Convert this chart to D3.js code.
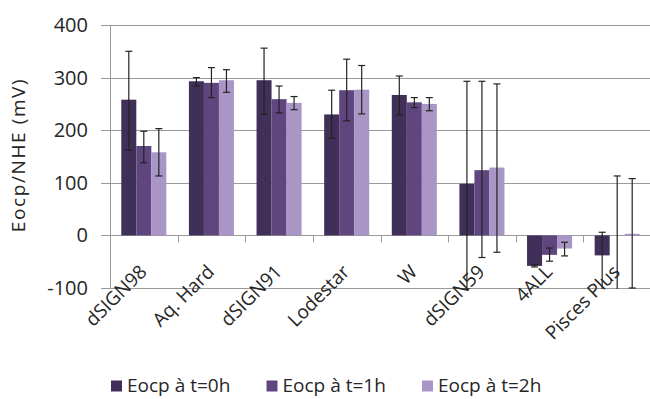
<!DOCTYPE html>
<html><head><meta charset="utf-8">
<script src="https://cdn.jsdelivr.net/npm/d3@7"></script>
<style>body{margin:0;background:#fff}svg{display:block}text{font-family:"Open Sans",sans-serif;fill:#262626}</style>
</head><body><svg id="c" width="650" height="399"></svg>
<script>
const categories = ["dSIGN98","Aq. Hard","dSIGN91","Lodestar","W","dSIGN59","4ALL","Pisces Plus"];
const seriesNames = ["Eocp à t=0h","Eocp à t=1h","Eocp à t=2h"];
const t0 = [258, 293, 295, 230, 267, 98, -58, -38];
const t1 = [170, 290, 259, 276, 253, 124, -37, 0];
const t2 = [158, 295, 252, 277, 250, 129, -25, 3];
const t0Up = [92, 7, 61, 46, 36, 195, 2, 44];
const t0Down = [96, 9, 65, 45, 38, 200, 2, 70];
const t1Up = [28, 29, 25, 59, 9, 169, 13, 113];
const t1Down = [32, 28, 26, 58, 10, 166, 12, 110];
const t2Up = [45, 20, 12, 46, 12, 159, 12, 105];
const t2Down = [45, 23, 13, 46, 13, 161, 14, 103];
const yTicks = [-100, 0, 100, 200, 300, 400];
const colors = ["#402f58", "#60467f", "#a996c6"];

const series = [
  {name: seriesNames[0], vals: t0, up: t0Up, down: t0Down},
  {name: seriesNames[1], vals: t1, up: t1Up, down: t1Down},
  {name: seriesNames[2], vals: t2, up: t2Up, down: t2Down}
];

const svg = d3.select("#c");
const pL = 110, pR = 651, pT = 25, pB = 288;
const y = d3.scaleLinear().domain([-100, 400]).range([pB, pT]);
const x = d3.scaleBand().domain(categories).range([pL, pR]).padding(0);
const xs = d3.scaleBand().domain([0,1,2]).range([x.bandwidth()*0.167, x.bandwidth()*0.833]).padding(0);

// gridlines
svg.append("g").selectAll("line").data(yTicks).join("line")
  .attr("x1", pL - 9).attr("x2", pR)
  .attr("y1", d => Math.round(y(d)) + 0.5).attr("y2", d => Math.round(y(d)) + 0.5)
  .attr("stroke", "#9a9a9a").attr("stroke-width", 1);

// y tick labels
svg.append("g").selectAll("text").data(yTicks).join("text")
  .attr("x", 88).attr("y", d => y(d)).attr("dy", "0.35em")
  .attr("text-anchor", "end").style("font-size", "20px").text(d => d);

// y axis line
svg.append("line").attr("x1", pL + 0.5).attr("x2", pL + 0.5)
  .attr("y1", pT).attr("y2", pB + 1).attr("stroke", "#9a9a9a");

// category ticks at zero
svg.append("g").selectAll("line").data(categories.slice(1)).join("line")
  .attr("x1", d => Math.round(x(d)) + 0.5).attr("x2", d => Math.round(x(d)) + 0.5)
  .attr("y1", y(0)).attr("y2", y(0) + 7).attr("stroke", "#9a9a9a");

svg.append("clipPath").attr("id", "clip").append("rect")
  .attr("x", pL).attr("y", pT - 5).attr("width", pR - pL).attr("height", pB - pT + 6);

const plot = svg.append("g").attr("clip-path", "url(#clip)");

// bars
series.forEach((s, si) => {
  plot.append("g").selectAll("rect").data(categories).join("rect")
    .attr("x", c => x(c) + xs(si))
    .attr("width", xs.bandwidth())
    .attr("y", (c, i) => y(Math.max(0, s.vals[i])))
    .attr("height", (c, i) => Math.abs(y(s.vals[i]) - y(0)))
    .attr("fill", colors[si]);
});

// error bars
series.forEach((s, si) => {
  const g = plot.append("g").attr("stroke", "#222").attr("stroke-width", 1.2);
  categories.forEach((c, i) => {
    const cx = x(c) + xs(si) + xs.bandwidth() / 2;
    const hi = y(s.vals[i] + s.up[i]);
    const lo = y(s.vals[i] - s.down[i]);
    g.append("line").attr("x1", cx).attr("x2", cx).attr("y1", hi).attr("y2", lo);
    g.append("line").attr("x1", cx - 3.5).attr("x2", cx + 3.5).attr("y1", hi).attr("y2", hi);
    g.append("line").attr("x1", cx - 3.5).attr("x2", cx + 3.5).attr("y1", lo).attr("y2", lo);
  });
});

// category labels
svg.append("g").selectAll("text").data(categories).join("text")
  .attr("text-anchor", "end").style("font-size", "19px")
  .attr("transform", c => `translate(${x(c) + x.bandwidth()/2 + 4},273) rotate(-45)`)
  .text(c => c);

// y title
svg.append("text").attr("text-anchor", "middle").style("font-size", "19px")
  .style("letter-spacing", "1.6px")
  .attr("transform", "translate(25,155) rotate(-90)").text("Eocp/NHE (mV)");

// legend
const lg = svg.append("g").selectAll("g").data(series).join("g")
  .attr("transform", (d, i) => `translate(${111 + i * 155.5},0)`);
lg.append("rect").attr("x", 0).attr("y", 380.5).attr("width", 11).attr("height", 11)
  .attr("fill", (d, i) => colors[i]);
lg.append("text").attr("x", 16).attr("y", 392).style("font-size", "19px").text(d => d.name);
</script></body></html>
